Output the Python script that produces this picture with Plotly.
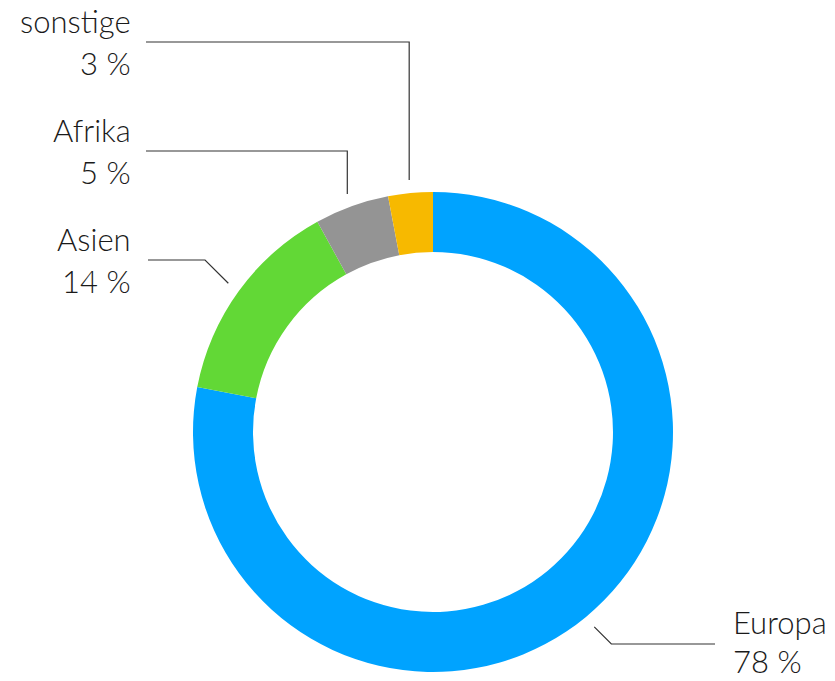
import math
import plotly.graph_objects as go

# Share of origin regions (percent)
regions = ["Europa", "Asien", "Afrika", "sonstige"]
shares = [78, 14, 5, 3]
colors = ["#00A3FF", "#62D836", "#949494", "#F7B900"]

W, H = 835, 681
FONT = "Lato"
FS = 31
TEXT_COLOR = "#1a1a1a"
LINE_COLOR = "#333333"

# Donut placement (pixels)
CX, CY, R = 433, 432, 240
HOLE = 0.75

def px_x(x):
    return x / W

def px_y(y):
    return 1 - y / H

fig = go.Figure(
    go.Pie(
        labels=regions,
        values=shares,
        marker=dict(colors=colors, line=dict(width=0)),
        hole=HOLE,
        sort=False,
        direction="clockwise",
        rotation=0,
        textinfo="none",
        hoverinfo="label+percent",
        domain=dict(x=[px_x(CX - R), px_x(CX + R)], y=[px_y(CY + R), px_y(CY - R)]),
    )
)

# Label layout: side, leader style, y of the horizontal leader, leader end x,
# and the baseline offsets of the two text lines relative to the leader
label_layout = {
    "sonstige": dict(side="left", style="vertical", line_y=42, end_x=146, off=(-11, 31)),
    "Afrika": dict(side="left", style="vertical", line_y=151, end_x=146, off=(-11, 31)),
    "Asien": dict(side="left", style="diagonal", line_y=260, end_x=148, off=(-11, 31)),
    "Europa": dict(side="right", style="diagonal", line_y=644, end_x=715, off=(-12, 27)),
}

total = sum(shares)
cum = 0.0
shapes = []
annotations = []
GAP = 13
for name, val in zip(regions, shares):
    mid = (cum + val / 2) / total * 2 * math.pi
    cum += val
    sx = CX + (R + GAP) * math.sin(mid)
    sy = CY - (R + GAP) * math.cos(mid)
    cfg = label_layout[name]
    ly = cfg["line_y"]
    pts = [(sx, sy)]
    if cfg["style"] == "vertical":
        pts.append((sx, ly))
    else:
        dy = abs(sy - ly)
        ex = sx - dy if cfg["side"] == "left" else sx + dy
        pts.append((ex, ly))
    pts.append((cfg["end_x"], ly))
    path = "M " + " L ".join(f"{px_x(x):.5f},{px_y(y):.5f}" for x, y in pts)
    shapes.append(dict(type="path", xref="paper", yref="paper", path=path,
                       line=dict(color=LINE_COLOR, width=1.2)))

    if cfg["side"] == "left":
        tx, anchor = 133, "right"
    else:
        tx, anchor = 731, "left"
    for text, off in zip((name, f"{val} %"), cfg["off"]):
        base = ly + off
        # middle of the text box sits about a third of an em above the baseline
        annotations.append(dict(
            x=px_x(tx), y=px_y(base - 0.33 * FS), xref="paper", yref="paper",
            text=text, showarrow=False, xanchor=anchor, yanchor="middle",
            font=dict(family=FONT, size=FS, color=TEXT_COLOR, weight=300),
        ))

fig.update_layout(
    width=W, height=H,
    margin=dict(l=0, r=0, t=0, b=0),
    paper_bgcolor="white", plot_bgcolor="white",
    showlegend=False,
    shapes=shapes,
    annotations=annotations,
)

fig.write_html("out.html")
